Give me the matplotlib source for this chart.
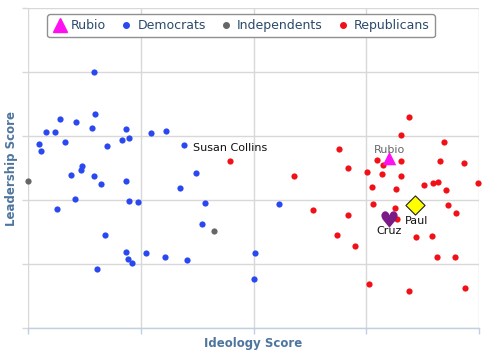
import numpy as np
import matplotlib
matplotlib.use('Agg')
import matplotlib.pyplot as plt
from matplotlib.lines import Line2D

# ideology (x) and leadership (y) scores, both on a 0..1 scale
dem_x = [0.147, 0.149, 0.071, 0.107, 0.143, 0.217, 0.039, 0.060, 0.273, 0.306,
         0.209, 0.225, 0.025, 0.083, 0.176, 0.028, 0.347, 0.373, 0.120, 0.117,
         0.095, 0.146, 0.217, 0.162, 0.336, 0.104, 0.225, 0.245, 0.392, 0.064,
         0.170, 0.386, 0.218, 0.222, 0.231, 0.261, 0.303, 0.353, 0.152, 0.556,
         0.503, 0.500]
dem_y = [0.800, 0.670, 0.652, 0.645, 0.626, 0.621, 0.612, 0.613, 0.608, 0.616,
         0.588, 0.593, 0.576, 0.580, 0.570, 0.554, 0.571, 0.485, 0.506, 0.493,
         0.479, 0.476, 0.460, 0.449, 0.438, 0.404, 0.397, 0.395, 0.390, 0.373,
         0.290, 0.326, 0.238, 0.216, 0.202, 0.233, 0.223, 0.212, 0.183, 0.388,
         0.233, 0.153]

ind_x = [0.001, 0.412]
ind_y = [0.458, 0.304]

rep_x = [0.449, 0.845, 0.827, 0.922, 0.690, 0.774, 0.827, 0.913, 0.966, 0.788,
         0.710, 0.752, 0.786, 0.827, 0.589, 0.998, 0.897, 0.910, 0.877, 0.762,
         0.816, 0.927, 0.633, 0.765, 0.813, 0.932, 0.948, 0.710, 0.819, 0.685,
         0.726, 0.860, 0.895, 0.906, 0.947, 0.757, 0.845, 0.970]
rep_y = [0.522, 0.660, 0.604, 0.580, 0.560, 0.524, 0.523, 0.522, 0.517, 0.509,
         0.500, 0.488, 0.480, 0.476, 0.475, 0.454, 0.454, 0.457, 0.448, 0.440,
         0.435, 0.431, 0.369, 0.387, 0.375, 0.385, 0.360, 0.353, 0.340, 0.290,
         0.255, 0.283, 0.287, 0.221, 0.223, 0.137, 0.117, 0.126]

collins = (0.449, 0.522)
rubio = (0.801, 0.530)
paul = (0.859, 0.383)
cruz = (0.801, 0.340)

fig = plt.figure(figsize=(4.9, 3.58), dpi=100)
ax = fig.add_axes([28 / 490, 30 / 358, 451 / 490, 320 / 358])

dot = 20
ax.scatter(dem_x, dem_y, s=dot, c='#2a48f0', linewidths=0, zorder=3, clip_on=False)
ax.scatter(ind_x, ind_y, s=dot, c='#666666', linewidths=0, zorder=3, clip_on=False)
ax.scatter(rep_x, rep_y, s=dot, c='#f21018', linewidths=0, zorder=3, clip_on=False)

ax.scatter([rubio[0]], [rubio[1]], s=95, marker='^', c='#ff10f0', linewidths=0, zorder=5)
ax.scatter([paul[0]], [paul[1]], s=95, marker='D', c='#ffff00', edgecolors='#222222',
           linewidths=0.8, zorder=5)
ax.scatter([cruz[0]], [cruz[1]], s=140, marker='$\u2665$', c='#7a1a86', linewidths=0, zorder=5)

# point labels
ax.annotate('Susan Collins', collins, xytext=(0, 8), textcoords='offset pixels',
            ha='center', va='bottom', fontsize=8, color='#111111', zorder=6)
ax.annotate('Rubio', rubio, xytext=(0, 3), textcoords='offset pixels',
            ha='center', va='bottom', fontsize=8, color='#666666', zorder=6)
ax.annotate('Paul', paul, xytext=(1, -11), textcoords='offset pixels',
            ha='center', va='top', fontsize=8, color='#111111', zorder=6)
ax.annotate('Cruz', cruz, xytext=(0, -7), textcoords='offset pixels',
            ha='center', va='top', fontsize=8, color='#111111', zorder=6)

ax.set_xlim(0, 1)
ax.set_ylim(0, 1)
ax.set_xticks(np.linspace(0, 1, 5))
ax.set_yticks(np.linspace(0, 1, 6))
ax.set_xticklabels([])
ax.set_yticklabels([])
ax.grid(True, color='#d8d8d8', linewidth=1)
ax.set_axisbelow(True)
for s in ['top', 'right', 'left']:
    ax.spines[s].set_visible(False)
ax.spines['bottom'].set_color('#c0d0e0')
ax.spines['bottom'].set_linewidth(1)
ax.tick_params(axis='x', length=4, color='#c0d0e0', width=1)
ax.tick_params(axis='y', length=4, color='#d8d8d8', width=1)

lab = dict(fontsize=8.5, fontweight='bold', color='#4d759e')
ax.set_xlabel('Ideology Score', va='center', **lab)
ax.set_ylabel('Leadership Score', va='center', **lab)
ax.xaxis.set_label_coords(0.5, -15 / 320)
ax.yaxis.set_label_coords(-16 / 451, 0.5)

handles = [
    Line2D([], [], marker='^', ls='', color='#ff10f0', markersize=10),
    Line2D([], [], marker='o', ls='', color='#2a48f0', markersize=4),
    Line2D([], [], marker='o', ls='', color='#666666', markersize=4),
    Line2D([], [], marker='o', ls='', color='#f21018', markersize=4),
]
leg = fig.legend(handles, ['Rubio', 'Democrats', 'Independents', 'Republicans'],
                 loc='center', bbox_to_anchor=(241 / 490, 1 - 25.5 / 358), ncol=4,
                 frameon=True, fancybox=True, fontsize=9, handletextpad=0.3,
                 columnspacing=1.0, handlelength=1.2, borderpad=0.4,
                 labelcolor='#2b4a6b')
leg.get_frame().set_edgecolor('#909090')
leg.get_frame().set_linewidth(1)
leg.get_frame().set_alpha(1)

fig.savefig('out.png', dpi=100)
